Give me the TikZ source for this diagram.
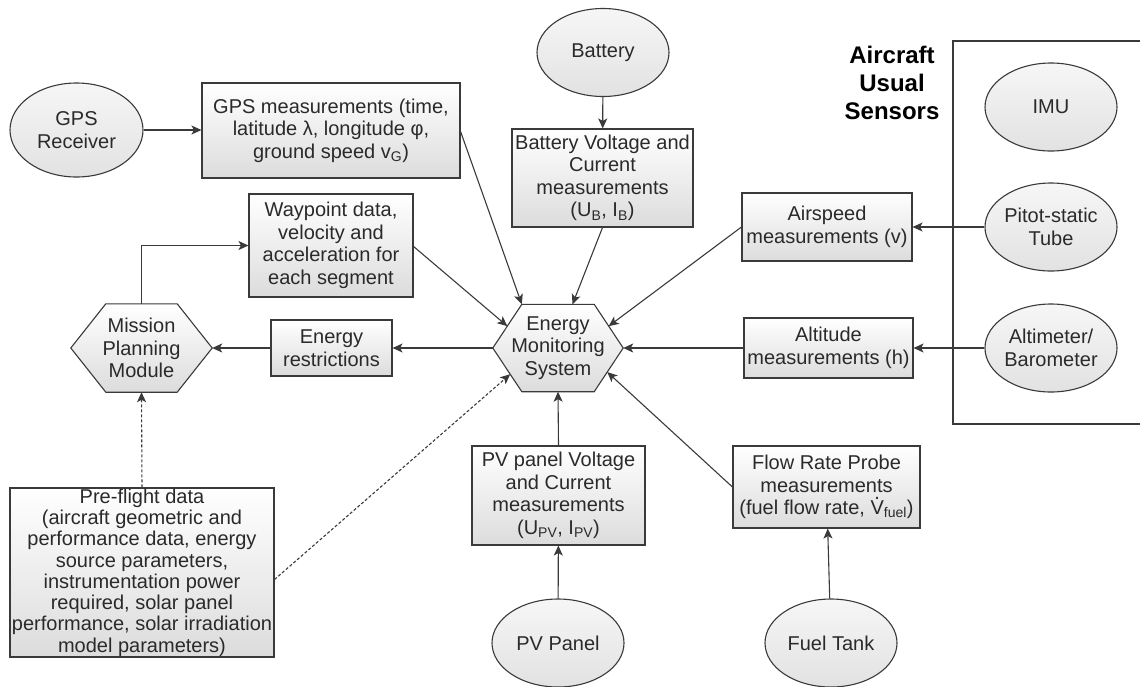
\documentclass[tikz,border=0pt]{standalone}
\usepackage{fontspec}
\setmainfont{Liberation Sans}
\usetikzlibrary{arrows.meta,calc,shapes.geometric,backgrounds}
\definecolor{ink}{HTML}{2A2A2A}
\definecolor{edgec}{HTML}{3A3A3A}
\definecolor{boxbot}{HTML}{DCDCDC}
\definecolor{ovtop}{HTML}{F6F6F6}
\definecolor{ovbot}{HTML}{E2E2E2}
\newcommand{\Vdotmark}{\ooalign{V\cr\hidewidth\raisebox{0.78em}{.}\hidewidth\cr}}
\tikzset{
  txt/.style={text=ink, align=center, inner sep=0pt, font=\fontsize{20}{22.5}\selectfont},
  box/.style={txt, draw=edgec, line width=1.1pt, top color=white, bottom color=boxbot},
  oval/.style={txt, ellipse, draw=edgec, line width=1.1pt, top color=ovtop, bottom color=ovbot, minimum width=132pt, minimum height=88pt},
  hexfill/.style={draw=edgec, line width=1.1pt, top color=white, bottom color=boxbot},
  arr/.style={draw=edgec, line width=1.1pt, -{Stealth[length=10pt,width=9pt,inset=2.5pt]}},
  dsh/.style={dash pattern=on 3pt off 2pt}
}
\begin{document}
\begin{tikzpicture}[x=1pt,y=-1pt]
\useasboundingbox (0,0) rectangle (1140,686);
% sensors frame
\draw[edgec, line width=1.1pt] (1141,41) -- (953,41) -- (953,424) -- (1141,424);
\node[txt, font=\fontsize{24}{28}\selectfont\bfseries, text=black] (title) at (892,83) {Aircraft\\Usual\\Sensors};
% ellipses
\node[oval, minimum width=133pt, minimum height=94pt] (gpsr) at (76.5,130) {GPS\\Receiver};
\node[oval] (bat) at (603,52.5) {Battery};
\node[oval] (imu) at (1051,107) {IMU};
\node[oval] (pit) at (1051,227) {Pitot-static\\Tube};
\node[oval] (altim) at (1051,348) {Altimeter/\\Barometer};
\node[oval] (pv) at (558,643) {PV Panel};
\node[oval] (fuel) at (831,643) {Fuel Tank};
% boxes
\node[box, minimum width=258pt, minimum height=95pt] (gpsm) at (331,130.5) {GPS measurements (time,\\latitude λ, longitude φ,\\ground speed v\textsubscript{G})};
\node[box, minimum width=164pt, minimum height=103pt] (wp) at (331,245.5) {Waypoint data,\\velocity and\\acceleration for\\each segment};
\node[box, minimum width=121pt, minimum height=56pt] (er) at (331.5,348) {Energy\\restrictions};
\node[box, minimum width=181pt, minimum height=98pt] (batm) at (602.5,178) {Battery Voltage and\\Current\\measurements\\(U\textsubscript{B}, I\textsubscript{B})};
\node[box, minimum width=170pt, minimum height=68pt] (air) at (827,227) {Airspeed\\measurements (v)};
\node[box, minimum width=169pt, minimum height=60pt] (alt) at (828.5,348) {Altitude\\measurements (h)};
\node[box, minimum width=173pt, minimum height=99pt] (pvm) at (558.5,495.5) {PV panel Voltage\\and Current\\measurements\\(U\textsubscript{PV}, I\textsubscript{PV})};
\node[box, minimum width=187pt, minimum height=82pt] (flow) at (826.5,487) {Flow Rate Probe\\measurements\\(fuel flow rate, \Vdotmark\textsubscript{fuel})};
\node[box, font=\fontsize{20}{21.3}\selectfont, minimum width=264pt, minimum height=169pt] (pre) at (142,572.5) {Pre-flight data\\(aircraft geometric and\\performance data, energy\\source parameters,\\instrumentation power\\required, solar panel\\performance, solar irradiation\\model parameters)};
% hexagons
\node[txt, minimum width=130pt, minimum height=87pt] (ems) at (558,348) {Energy\\Monitoring\\System};
\node[txt, minimum width=141pt, minimum height=88pt] (mis) at (141.5,348) {Mission\\Planning\\Module};
\coordinate (ems-w) at (ems.west);
\coordinate (ems-e) at (ems.east);
\coordinate (ems-nw) at ($(ems.north west)+(29,0)$);
\coordinate (ems-ne) at ($(ems.north east)+(-29,0)$);
\coordinate (ems-sw) at ($(ems.south west)+(29,0)$);
\coordinate (ems-se) at ($(ems.south east)+(-29,0)$);
\coordinate (mis-w) at (mis.west);
\coordinate (mis-e) at (mis.east);
\coordinate (mis-nw) at ($(mis.north west)+(35,0)$);
\coordinate (mis-ne) at ($(mis.north east)+(-35,0)$);
\coordinate (mis-sw) at ($(mis.south west)+(35,0)$);
\coordinate (mis-se) at ($(mis.south east)+(-35,0)$);
\begin{scope}[on background layer]
\path[hexfill] (ems-w) -- (ems-nw) -- (ems-ne) -- (ems-e) -- (ems-se) -- (ems-sw) -- cycle;
\path[hexfill] (mis-w) -- (mis-nw) -- (mis-ne) -- (mis-e) -- (mis-se) -- (mis-sw) -- cycle;
\end{scope}
% connectors
\draw[arr] (gpsr.east) -- (gpsr.east -| gpsm.west);
\draw[arr] (bat) -- (batm);
\draw[arr] ($(gpsm.north east)+(0,49)$) -- (ems-nw);
\draw[arr] (batm.south) -- ($(ems-nw)!0.7!(ems-ne)$);
\draw[arr] ($(wp.north east)+(0,53)$) -- ($(ems-w)!0.5!(ems-nw)$);
\draw[arr] (air.west) -- ($(ems-e)!0.5!(ems-ne)$);
\draw[arr] (alt.west) -- (ems-e);
\draw[arr] (pit) -- (air);
\draw[arr] (altim) -- (alt);
\draw[arr] (ems-w) -- (er.east);
\draw[arr] (er.west) -- (mis-e);
\draw[arr] (mis.north) |- (wp.west);
\draw[arr] (pvm.north) -- (ems.south);
\draw[arr] (pv) -- (pvm);
\draw[arr] (fuel) -- (flow);
\draw[arr] (flow.west) -- ($(ems-e)!0.55!(ems-se)$);
\draw[arr, dsh] (pre.north) -- (mis.south);
\draw[arr, dsh] ($(pre.north east)+(0,92)$) -- ($(ems-w)!0.6!(ems-sw)$);
\end{tikzpicture}
\end{document}
